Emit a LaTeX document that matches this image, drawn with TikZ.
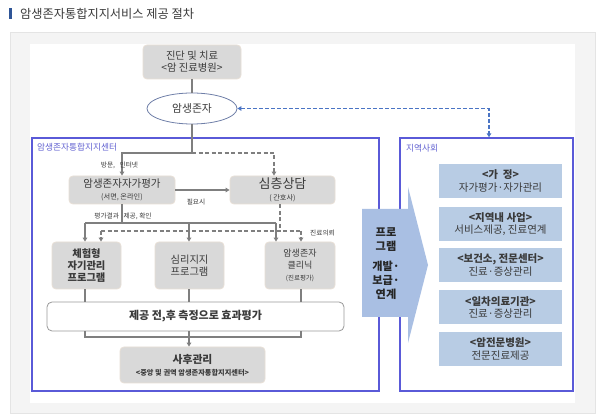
\documentclass[tikz,border=0pt]{standalone}
\usepackage{fontspec}
\setmainfont{Noto Sans CJK KR}
\usetikzlibrary{arrows.meta,shapes.geometric}
\definecolor{txt}{HTML}{3A3A3A}
\definecolor{boxgray}{HTML}{D9D9D9}
\definecolor{boxedge}{HTML}{E8DFD6}
\definecolor{lgray}{HTML}{7F7F7F}
\definecolor{panelcol}{HTML}{5A5AD8}
\definecolor{plabelcol}{HTML}{6464D2}
\definecolor{bluedash}{HTML}{4A74C4}
\definecolor{rfill}{HTML}{B8CCE4}
\definecolor{arrfill}{HTML}{A9BFE3}
\definecolor{outerbg}{HTML}{F4F4F4}
\definecolor{outeredge}{HTML}{E4E4E4}
\definecolor{titlebar}{HTML}{2F5597}
\definecolor{ellcol}{HTML}{6F7FA8}
\begin{document}
\begin{tikzpicture}[x=1pt,y=-1pt,
  gbox/.style={rectangle, rounded corners=4pt, fill=boxgray, draw=boxedge, line width=0.8pt, inner sep=0pt, text=txt, align=center},
  rbox/.style={rectangle, fill=rfill, inner sep=0pt, minimum width=123pt, minimum height=34pt, text=txt, align=center, font=\fontsize{10.5}{12.5}\selectfont},
  panel/.style={rectangle, draw=panelcol, line width=1.4pt, inner sep=0pt},
  plabel/.style={text=plabelcol, font=\fontsize{8.7}{10}\selectfont, inner sep=0pt},
  smlbl/.style={text=txt, font=\fontsize{6.7}{8}\selectfont, inner sep=0pt},
  cline/.style={draw=lgray, line width=1.3pt},
  carr/.style={cline, -{Triangle[length=4pt,width=4.5pt]}},
  dline/.style={draw=lgray, line width=1.3pt, dash pattern=on 4pt off 2.5pt},
  darr/.style={dline, -{Triangle[length=4pt,width=4.5pt]}},
  bdarr/.style={draw=bluedash, line width=1.2pt, dash pattern=on 4pt off 2pt, {Triangle[length=4pt,width=4.5pt]}-{Triangle[length=4pt,width=4.5pt]}}
]
\useasboundingbox (0,0) rectangle (600,419);
% background frame
\fill[white] (0,0) rectangle (600,419);
\fill[outerbg, draw=outeredge, line width=0.6pt] (10,32) rectangle (595,413);
\fill[white] (30,44) rectangle (575,403);
% title
\fill[titlebar] (9,8.5) rectangle (12,19);
\node[anchor=west, inner sep=0pt, text=txt, font=\fontsize{12.2}{13}\selectfont] (title) at (20,13.5) {암생존자통합지지서비스 제공 절차};

% panels
\node[panel, minimum width=347pt, minimum height=253pt] (lp) at (205.5,264.5) {};
\node[panel, minimum width=173pt, minimum height=253pt] (rp) at (486.5,264.5) {};
\node[plabel, anchor=west] (lpl) at (37,147.5) {암생존자통합지지센터};
\node[plabel, anchor=west] (rpl) at (406,148) {지역사회};

% top
\node[gbox, minimum width=98pt, minimum height=34pt, font=\fontsize{10.3}{12}\selectfont] (top) at (192,62) {진단 및 치료\\<암 진료병원>};
\node[ellipse, draw=ellcol, line width=0.8pt, fill=white, minimum width=90pt, minimum height=31pt, inner sep=0pt, text=txt, font=\fontsize{10.8}{12}\selectfont] (ell) at (192,108.5) {암생존자};

% left panel boxes
\node[gbox, minimum width=106pt, minimum height=28pt] (self) at (122,190) {\fontsize{10.5}{11}\selectfont 암생존자자가평가\\\fontsize{7.2}{11}\selectfont (서면, 온라인)};
\node[gbox, minimum width=105pt, minimum height=28pt] (deep) at (282.5,190) {\fontsize{13}{12}\selectfont 심층상담\\\fontsize{7.2}{11}\selectfont ( 간호사)};
\node[gbox, minimum width=69pt, minimum height=47pt, font=\fontsize{10.3}{12}\selectfont\bfseries] (exp) at (86.5,265.5) {체험형\\자기관리\\프로그램};
\node[gbox, minimum width=69pt, minimum height=47pt, font=\fontsize{10.3}{12}\selectfont] (psy) at (189.5,265.5) {심리지지\\프로그램};
\node[gbox, minimum width=70pt, minimum height=47pt] (clinic) at (300,265.5) {\fontsize{9}{11}\selectfont 암생존자\\\fontsize{9}{11}\selectfont 클리닉\\\fontsize{6.5}{9.5}\selectfont (진료평가)};
\node[rectangle, rounded corners=5pt, draw=lgray!80, fill=white, line width=0.8pt, minimum width=297pt, minimum height=29pt, inner sep=0pt, text=txt, font=\fontsize{11}{12}\selectfont\bfseries] (eval) at (195.5,316.5) {제공 전,후 측정으로 효과평가};
\node[gbox, minimum width=145pt, minimum height=36pt] (after) at (192.5,365) {\fontsize{10.8}{12}\selectfont\bfseries 사후관리\\\fontsize{7.2}{10}\selectfont\bfseries <중앙 및 권역 암생존자통합지지센터>};

% right boxes
\node[rbox] (r1) at (500.5,181) {\textbf{<가~~정>}\\자가평가·자가관리};
\node[rbox] (r2) at (500.5,224) {\textbf{<지역내 사업>}\\서비스제공, 진료연계};
\node[rbox] (r3) at (500.5,265) {\textbf{<보건소, 전문센터>}\\진료·증상관리};
\node[rbox] (r4) at (500.5,307.5) {\textbf{<일차의료기관>}\\진료·증상관리};
\node[rbox] (r5) at (500.5,349) {\textbf{<암전문병원>}\\전문진료제공};

% big arrow
\fill[arrfill] (362,209) -- (408,209) -- (408,187) -- (428,265) -- (408,343) -- (408,317) -- (362,317) -- cycle;
\node[inner sep=0pt, align=center, text=black!85, font=\fontsize{11.2}{14}\selectfont\bfseries] (prog) at (386,264) {프로\\그램\\[6pt]개발·\\보급·\\연계};

% connectors top
\draw[cline] (top.south) -- (ell.north);
\coordinate (j1) at (192,153);
\draw[cline] (ell.south) -- (j1);
\draw[carr] (j1) -| (self.north);
\node[smlbl] (l1) at (119.5,165) {방문,\ \ \ 인터넷};
\draw[darr] (j1) -| ([xshift=-8.5pt]deep.north);
\draw[carr] (self.east) -- (deep.west);
\node[smlbl] (l2) at (196,202) {필요시};

% second level
\coordinate (j2) at (122,223);
\draw[cline] (self.south) -- (j2);
\draw[cline] ([xshift=-1.5pt]exp.north |- j2) -- ([xshift=-24pt]clinic.north |- j2);
\draw[carr] ([xshift=-1.5pt]exp.north |- j2) -- ([xshift=-1.5pt]exp.north);
\draw[carr] ([xshift=-0.5pt]psy.north |- j2) -- ([xshift=-0.5pt]psy.north);
\draw[carr] ([xshift=-24pt]clinic.north |- j2) -- ([xshift=-24pt]clinic.north);
\node[smlbl] (l3) at (123,216) {평가결과\ \ \ 제공, 확인};

\coordinate (j3) at (280,231);
\draw[dline] ([xshift=-2.5pt]deep.south) -- (j3);
\draw[dline] ([xshift=14.5pt]exp.north |- j3) -- ([xshift=1pt]clinic.north |- j3);
\draw[darr] ([xshift=14.5pt]exp.north |- j3) -- ([xshift=14.5pt]exp.north);
\draw[darr] ([xshift=1pt]clinic.north |- j3) -- ([xshift=1pt]clinic.north);
\node[smlbl, anchor=west] (l4) at (310,233) {진료의뢰};

% to eval
\draw[cline] ([xshift=-1.5pt]exp.south) -- ([xshift=-1.5pt]exp.south |- eval.north);
\draw[cline] ([xshift=-0.5pt]psy.south) -- ([xshift=-0.5pt]psy.south |- eval.north);
\draw[cline] ([xshift=1pt]clinic.south) -- ([xshift=1pt]clinic.south |- eval.north);

% eval to after
\coordinate (j4) at (189,337);
\draw[cline] ([xshift=-1.5pt]exp.south |- eval.south) -- ([xshift=-1.5pt]exp.south |- j4) -- ([xshift=1pt]clinic.south |- j4) -- ([xshift=1pt]clinic.south |- eval.south);
\draw[carr] (j4 |- eval.south) -- (j4 |- after.north);

% blue dashed link
\draw[bdarr] (ell.east) -| ([xshift=2.5pt]rp.north);
\end{tikzpicture}
\end{document}
